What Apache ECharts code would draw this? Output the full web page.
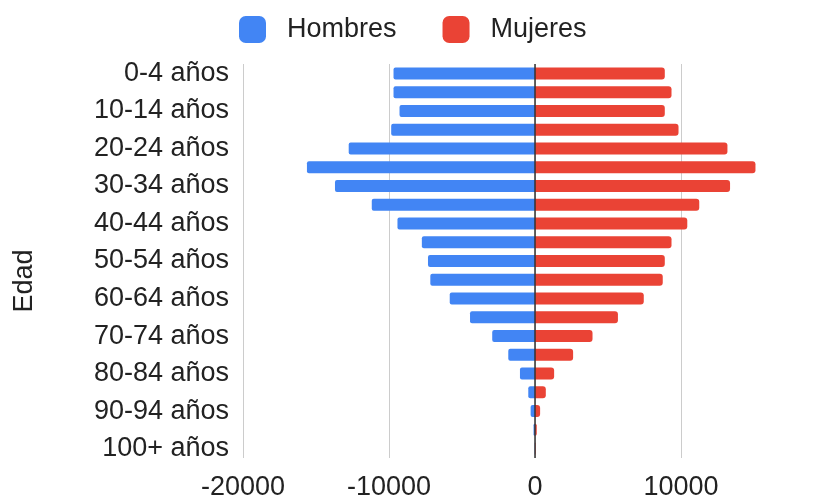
<!DOCTYPE html>
<html>
<head>
<meta charset="utf-8">
<title>Pirámide de población</title>
<script src="https://cdn.jsdelivr.net/npm/echarts@6/dist/echarts.min.js"></script>
<style>
  html, body { margin: 0; padding: 0; background: #fff; }
  #chart { width: 817px; height: 501px; }
</style>
</head>
<body>
<div id="chart"></div>
<script>
// grupos de edad, de arriba a abajo
const edades = ['0-4 años', '5-9 años', '10-14 años', '15-19 años', '20-24 años', '25-29 años',
  '30-34 años', '35-39 años', '40-44 años', '45-49 años', '50-54 años', '55-59 años',
  '60-64 años', '65-69 años', '70-74 años', '75-79 años', '80-84 años', '85-89 años',
  '90-94 años', '95-99 años', '100+ años']

// hombres en negativo para que salgan a la izquierda
const hombres = [-9690, -9690, -9280, -9850, -12760, -15620, -13700, -11180, -9420, -7750,
  -7330, -7170, -5840, -4450, -2930, -1830, -1030, -460, -300, -100, -20]
const mujeres = [8890, 9350, 8890, 9830, 13180, 15100, 13360, 11250, 10430, 9350,
  8890, 8750, 7450, 5680, 3940, 2610, 1310, 740, 350, 120, 40]

const ejeMin = -20000
const ejeMax = 20000
const ejePaso = 10000

const fuente = "'Liberation Sans', Arial, sans-serif"
const colorTexto = '#222'

const chart = echarts.init(document.getElementById('chart'))

const option = {
  animation: false,
  textStyle: { fontFamily: fuente },
  legend: {
    data: ['Hombres', 'Mujeres'],
    left: 234,
    top: 11,
    itemWidth: 27,
    itemHeight: 27,
    itemGap: 46,
    icon: 'roundRect',
    textStyle: { fontSize: 27, color: colorTexto, fontFamily: fuente, padding: [0, 0, 0, 16] }
  },
  grid: {
    left: 243,
    top: 64,
    width: 584,
    height: 394,
    outerBoundsMode: 'none',
    containLabel: false
  },
  xAxis: {
    type: 'value',
    min: ejeMin,
    max: ejeMax,
    interval: ejePaso,
    axisLine: { show: false },
    axisTick: { show: false },
    axisLabel: {
      fontSize: 27,
      color: colorTexto,
      fontFamily: fuente,
      margin: 16,
      showMaxLabel: false,
      formatter: v => String(v)
    },
    splitLine: { lineStyle: { color: '#ccc', width: 1 } }
  },
  yAxis: {
    type: 'category',
    inverse: true,
    data: edades,
    axisLine: { show: false },
    axisTick: { show: false },
    axisLabel: { interval: 1, fontSize: 27, color: colorTexto, fontFamily: fuente, margin: 14 }
  },
  graphic: [{
    type: 'text',
    x: 25,
    y: 281,
    rotation: Math.PI / 2,
    style: {
      text: 'Edad',
      fontSize: 27,
      fontFamily: fuente,
      fill: colorTexto,
      align: 'center',
      verticalAlign: 'middle'
    }
  }],
  series: [
    {
      name: 'Hombres',
      type: 'bar',
      stack: 'total',
      barWidth: 12,
      data: hombres,
      itemStyle: { color: '#4285F4', borderRadius: [2, 0, 0, 2] }
    },
    {
      name: 'Mujeres',
      type: 'bar',
      stack: 'total',
      barWidth: 12,
      data: mujeres,
      itemStyle: { color: '#EA4335', borderRadius: [0, 3, 3, 0] },
      // línea base en 0
      markLine: {
        silent: true,
        symbol: 'none',
        z: 10,
        label: { show: false },
        lineStyle: { color: '#333', width: 1.5, type: 'solid' },
        data: [{ xAxis: 0 }]
      }
    }
  ]
}

chart.setOption(option)
</script>
</body>
</html>
